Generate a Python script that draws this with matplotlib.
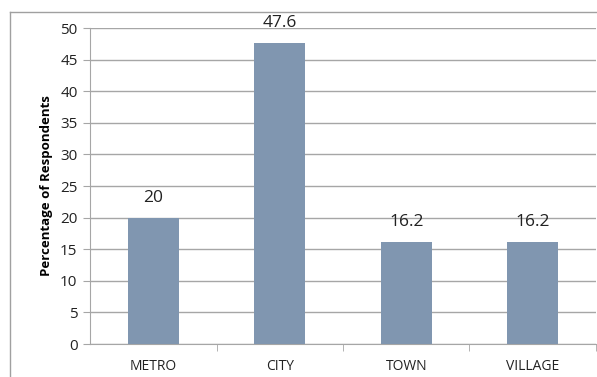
import matplotlib.pyplot as plt
from matplotlib.lines import Line2D

categorias = ['METRO', 'CITY', 'TOWN', 'VILLAGE']
porcentajes = [20, 47.6, 16.2, 16.2]
etiquetas = ['20', '47.6', '16.2', '16.2']

plt.rcParams['font.family'] = ['Open Sans', 'DejaVu Sans']

fig = plt.figure(figsize=(5.97, 3.77), dpi=100)
ax = fig.add_axes([0.1508, 0.0875, 0.8475, 0.8382])

x = range(len(categorias))
ax.bar(x, porcentajes, width=0.4, color='#8096b0', zorder=3)
for xi, v, t in zip(x, porcentajes, etiquetas):
    ax.text(xi, v + 1.9, t, ha='center', va='bottom', fontsize=12.5, color='#222222')

ax.set_xlim(-0.5, len(categorias) - 0.5)
ax.set_ylim(0, 50)
ax.set_yticks(range(0, 51, 5))
ax.yaxis.grid(True, color='#a6a6a6', linewidth=1, zorder=0)

ax.set_xticks(x)
ax.set_xticklabels(categorias, fontsize=10)
ax.set_xticks([i + 0.5 for i in x], minor=True)
ax.tick_params(axis='x', which='major', length=0, pad=11)
ax.tick_params(axis='x', which='minor', length=5, color='#a6a6a6', direction='out')
ax.tick_params(axis='y', length=5, color='#a6a6a6', labelsize=11, pad=4)
for lbl in ax.get_yticklabels() + ax.get_xticklabels():
    lbl.set_color('#222222')

ax.set_ylabel('Percentage of Respondents', fontsize=9.5, fontweight='bold', labelpad=5)

for s in ['top', 'right']:
    ax.spines[s].set_visible(False)
ax.spines['left'].set_color('#a6a6a6')
ax.spines['bottom'].set_color('#a6a6a6')

# marco exterior del grafico
fig.add_artist(Line2D([10 / 597, 10 / 597], [0, 1 - 12 / 377], transform=fig.transFigure, color='#a0a0a0', lw=1))
fig.add_artist(Line2D([10 / 597, 1], [1 - 12 / 377, 1 - 12 / 377], transform=fig.transFigure, color='#a0a0a0', lw=1))

fig.savefig('out.png', dpi=100)
